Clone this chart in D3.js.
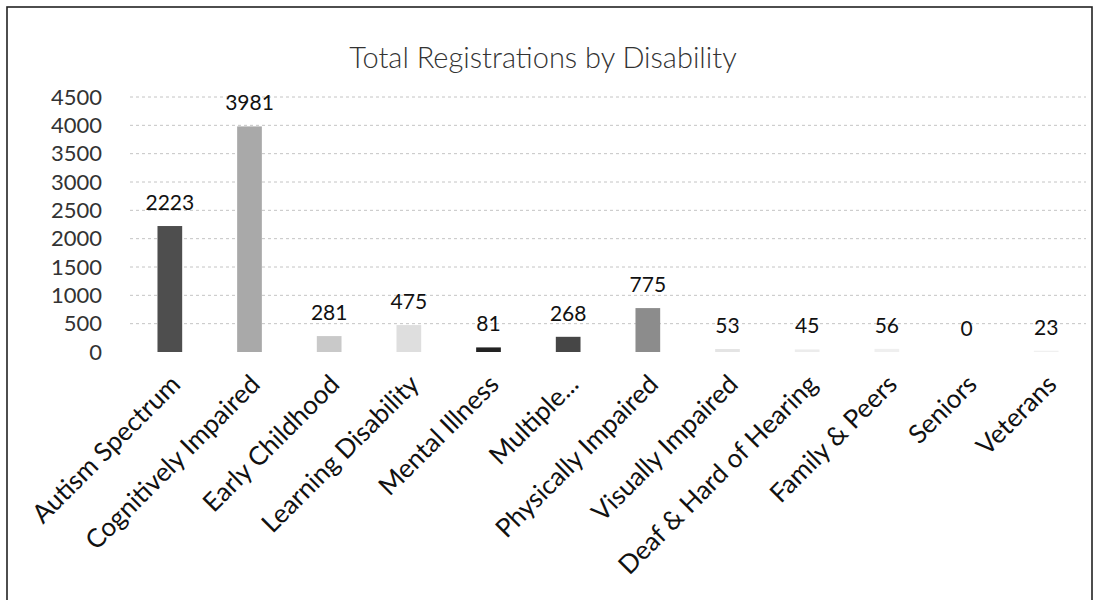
<!DOCTYPE html>
<html>
<head>
<meta charset="utf-8">
<script src="https://cdn.jsdelivr.net/npm/d3@7"></script>
<style>
  body { margin: 0; background: #fff; }
  text { font-family: Lato, "Open Sans", sans-serif; }
</style>
</head>
<body>
<div id="chart"></div>
<script>
// values
var categories = ["Autism Spectrum", "Cognitively Impaired", "Early Childhood",
  "Learning Disability", "Mental Illness", "Multiple...", "Physically Impaired",
  "Visually Impaired", "Deaf & Hard of Hearing", "Family & Peers", "Seniors", "Veterans"];
var registrations = [2223, 3981, 281, 475, 81, 268, 775, 53, 45, 56, 0, 23];
var yTicks = [0, 500, 1000, 1500, 2000, 2500, 3000, 3500, 4000, 4500];
var barGrays = ["#4e4e4e", "#a9a9a9", "#c9c9c9", "#dedede", "#222222", "#464646",
  "#8c8c8c", "#e4e4e4", "#ececec", "#efefef", "#eeeeee", "#f0f0f0"];

var width = 1097, height = 600;
var margin = {top: 97, right: 11, bottom: 245, left: 130};

var svg = d3.select("#chart").append("svg")
    .attr("width", width)
    .attr("height", height);

// frame of the pasted chart
svg.append("rect")
    .attr("x", 7).attr("y", 7)
    .attr("width", 1085).attr("height", 620)
    .attr("fill", "none")
    .attr("stroke", "#222")
    .attr("stroke-width", 1.6);

svg.append("text")
    .attr("x", 543)
    .attr("y", 68)
    .attr("text-anchor", "middle")
    .style("font-size", "29px")
    .style("font-weight", 300)
    .attr("fill", "#333")
    .text("Total Registrations by Disability");

var x = d3.scaleBand()
    .domain(categories)
    .range([margin.left, width - margin.right])
    .paddingInner(0.69)
    .paddingOuter(0.345);

var y = d3.scaleLinear()
    .domain([0, 4500])
    .range([height - margin.bottom - 3, margin.top]);

// gridlines
svg.append("g")
    .selectAll("line")
    .data(yTicks.slice(1))
    .enter().append("line")
    .attr("x1", margin.left)
    .attr("x2", width - margin.right)
    .attr("y1", function(d) { return y(d); })
    .attr("y2", function(d) { return y(d); })
    .attr("stroke", "#c4c4c4")
    .attr("stroke-dasharray", "3,3");

// y axis labels
var yAxis = d3.axisLeft(y).tickValues(yTicks).tickFormat(d3.format("d"))
    .tickSize(0).tickPadding(0);
var yG = svg.append("g")
    .attr("transform", "translate(102,0)")
    .call(yAxis);
yG.select(".domain").remove();
yG.selectAll("text")
    .style("font-size", "22px")
    .attr("fill", "#333");

// bars
svg.append("g")
    .selectAll("rect")
    .data(registrations)
    .enter().append("rect")
    .attr("x", function(d, i) { return x(categories[i]); })
    .attr("y", function(d) { return y(d); })
    .attr("width", x.bandwidth())
    .attr("height", function(d) { return y(0) - y(d); })
    .attr("fill", function(d, i) { return barGrays[i]; });

// data labels
svg.append("g")
    .selectAll("text")
    .data(registrations)
    .enter().append("text")
    .attr("x", function(d, i) { return x(categories[i]) + x.bandwidth() / 2; })
    .attr("y", function(d) { return y(d) - 16; })
    .attr("text-anchor", "middle")
    .style("font-size", "21px")
    .attr("fill", "#111")
    .text(function(d) { return d; });

// category labels, rotated
var xAxis = d3.axisBottom(x).tickSize(0).tickPadding(0);
var xG = svg.append("g")
    .attr("transform", "translate(0," + y(0) + ")")
    .call(xAxis);
xG.select(".domain").remove();
xG.selectAll("text")
    .style("font-size", "26px")
    .attr("fill", "#111")
    .attr("text-anchor", "end")
    .attr("y", 0)
    .attr("dy", 0)
    .attr("transform", "translate(12,34) rotate(-45)");
</script>
</body>
</html>
